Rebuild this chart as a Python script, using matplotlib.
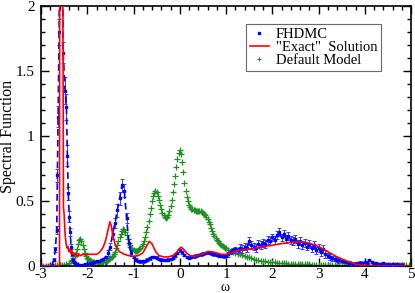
import numpy as np
import matplotlib
matplotlib.use('Agg')
import matplotlib.pyplot as plt
from matplotlib.lines import Line2D
from matplotlib.ticker import MultipleLocator

plt.rcParams['font.family'] = ['Liberation Serif', 'DejaVu Serif']
plt.rcParams['axes.unicode_minus'] = False

# FHDMC: fine points around the sharp low-energy peak
fh_peak_w = [-3.00, -2.95, -2.90, -2.85, -2.80, -2.76, -2.72, -2.69, -2.66, -2.645,
             -2.63, -2.61, -2.59, -2.57, -2.55, -2.53, -2.52, -2.48, -2.45, -2.43,
             -2.41, -2.39, -2.37, -2.35, -2.33, -2.31, -2.29, -2.27, -2.25]
fh_peak_a = [0.0, 0.0, 0.0, 0.0, 0.002, 0.01, 0.05, 0.13, 0.28, 0.7,
             1.15, 1.8, 2.4, 2.7, 2.5, 2.1, 1.64, 1.35, 1.22, 0.85,
             0.56, 0.38, 0.26, 0.15, 0.09, 0.05, 0.03, 0.02, 0.012]
fh_peak_err = [0.002, 0.002, 0.002, 0.002, 0.003, 0.005, 0.01, 0.02, 0.03, 0.05,
               0.08, 0.1, 0.1, 0.1, 0.1, 0.1, 0.08, 0.1, 0.1, 0.08,
               0.05, 0.04, 0.03, 0.02, 0.015, 0.01, 0.008, 0.006, 0.005]

# FHDMC on the regular grid -2.20 ... 4.80 (step 0.05)
fh_w = np.round(np.arange(-2.20, 4.801, 0.05), 2)
fh_a = [0.01, 0.008, 0.01, 0.012, 0.015, 0.02, 0.025, 0.03, 0.035, 0.04,
        0.045, 0.055, 0.07, 0.10, 0.15, 0.25, 0.33, 0.43, 0.52, 0.62,
        0.58, 0.37, 0.18, 0.10, 0.07, 0.05, 0.04, 0.035, 0.035, 0.04,
        0.05, 0.06, 0.07, 0.07, 0.065, 0.055, 0.05, 0.045, 0.045, 0.05,
        0.055, 0.065, 0.08, 0.10, 0.12, 0.105, 0.085, 0.07, 0.065, 0.07,
        0.075, 0.08, 0.085, 0.09, 0.095, 0.10, 0.105, 0.10, 0.095, 0.09,
        0.085, 0.08, 0.08, 0.075, 0.08, 0.09, 0.11, 0.12, 0.13, 0.12,
        0.14, 0.13, 0.15, 0.14, 0.19, 0.16, 0.15, 0.14, 0.17, 0.16,
        0.18, 0.17, 0.20, 0.19, 0.22, 0.20, 0.24, 0.26, 0.22, 0.25,
        0.21, 0.23, 0.20, 0.19, 0.21, 0.17, 0.19, 0.16, 0.18, 0.15,
        0.17, 0.14, 0.16, 0.12, 0.14, 0.11, 0.13, 0.09, 0.08, 0.07,
        0.06, 0.055, 0.05, 0.045, 0.04, 0.035, 0.03, 0.025, 0.02, 0.015,
        0.02, 0.015, 0.025, 0.02, 0.03, 0.025, 0.045, 0.03, 0.015, 0.02,
        0.015, 0.01, 0.02, 0.01, 0.015, 0.01, 0.012, 0.01, 0.012, 0.01,
        0.01]
fh_err = ([0.005] * 12 + [0.01, 0.02, 0.03, 0.04, 0.04, 0.05, 0.05, 0.05]
          + [0.05, 0.04, 0.03, 0.02] + [0.01] * 16
          + [0.01] * 20
          + [0.01] * 5 + [0.02] * 5 + [0.03] * 10
          + [0.03] * 20
          + [0.03] * 8 + [0.02] * 6 + [0.01] * 6
          + [0.01] * 20
          + [0.01])

# "Exact" solution
ex_w = [-3.0, -2.61, -2.60, -2.595, -2.53, -2.515, -2.50, -2.48, -2.46, -2.44,
        -2.42, -2.40, -2.38, -2.36, -2.34, -2.32, -2.30, -2.27, -2.24, -2.21,
        -2.18, -2.15, -2.10, -2.05, -2.0, -1.9, -1.8, -1.75, -1.70, -1.65,
        -1.60, -1.55, -1.51, -1.48, -1.45, -1.40, -1.35, -1.30, -1.20, -1.10,
        -1.00, -0.90, -0.80, -0.72, -0.66, -0.60, -0.52, -0.45, -0.35, -0.25,
        -0.15, -0.08, -0.02, 0.03, 0.08, 0.15, 0.22, 0.30, 0.40, 0.50,
        0.60, 0.70, 0.80, 0.90, 1.00, 1.10, 1.25, 1.50, 1.75, 2.00,
        2.25, 2.50, 2.65, 2.80, 3.00, 3.20, 3.40, 3.60, 3.80, 3.95,
        4.10, 5.0]
ex_a = [0.0, 0.0, 0.0, 2.5, 2.5, 0.45, 0.40, 0.25, 0.18, 0.14,
        0.15, 0.11, 0.13, 0.10, 0.12, 0.09, 0.10, 0.08, 0.10, 0.07,
        0.09, 0.08, 0.09, 0.085, 0.09, 0.09, 0.09, 0.10, 0.12, 0.15,
        0.20, 0.28, 0.34, 0.31, 0.24, 0.17, 0.13, 0.11, 0.09, 0.08,
        0.075, 0.08, 0.10, 0.15, 0.19, 0.17, 0.11, 0.08, 0.07, 0.07,
        0.08, 0.10, 0.13, 0.145, 0.13, 0.10, 0.08, 0.075, 0.08, 0.095,
        0.11, 0.11, 0.10, 0.09, 0.09, 0.10, 0.12, 0.13, 0.145, 0.16,
        0.175, 0.185, 0.185, 0.175, 0.15, 0.11, 0.07, 0.04, 0.015, 0.005,
        0.0, 0.0]

# Default model on grid -3.00 ... 5.00 (step 0.05)
dm_w = np.round(np.arange(-3.0, 5.001, 0.05), 2)
dm_a = [0.002, 0.002, 0.002, 0.003, 0.003, 0.003, 0.004, 0.004, 0.005, 0.006,
        0.008, 0.012, 0.02, 0.035, 0.06, 0.10, 0.17, 0.21, 0.16, 0.10,
        0.065, 0.045, 0.033, 0.027, 0.024, 0.024, 0.026, 0.03, 0.035, 0.045,
        0.06, 0.08, 0.11, 0.16, 0.22, 0.27, 0.28, 0.24, 0.18, 0.14,
        0.12, 0.115, 0.12, 0.14, 0.17, 0.22, 0.30, 0.40, 0.50, 0.56,
        0.57, 0.51, 0.44, 0.39, 0.37, 0.39, 0.46, 0.57, 0.69, 0.82,
        0.89, 0.80, 0.64, 0.53, 0.47, 0.44, 0.43, 0.425, 0.42, 0.42,
        0.41, 0.39, 0.36, 0.32, 0.27, 0.23, 0.20, 0.18, 0.16, 0.15,
        0.135, 0.125, 0.115, 0.105, 0.10, 0.095, 0.09, 0.085, 0.078, 0.072,
        0.066, 0.06, 0.055, 0.05, 0.046, 0.042, 0.039, 0.036, 0.033, 0.031,
        0.029, 0.027, 0.025, 0.024, 0.022, 0.021, 0.02, 0.019, 0.018, 0.017,
        0.016, 0.015, 0.014, 0.014, 0.013, 0.012, 0.012, 0.011, 0.011, 0.01,
        0.01, 0.01, 0.009, 0.009, 0.009, 0.008, 0.008, 0.008, 0.008, 0.007,
        0.007, 0.007, 0.007, 0.006, 0.006, 0.006, 0.006, 0.006, 0.005, 0.005,
        0.005, 0.005, 0.005, 0.005, 0.005, 0.005, 0.005, 0.004, 0.004, 0.004,
        0.004, 0.004, 0.004, 0.004, 0.004, 0.004, 0.004, 0.004, 0.004, 0.004,
        0.004]

# Default model, in-between points -2.325 ... 0.975 (step 0.05)
dm2_w = np.round(np.arange(-2.325, 0.976, 0.05), 3)
dm2_a = [0.045, 0.08, 0.13, 0.20, 0.19, 0.13, 0.08, 0.054, 0.038, 0.03,
         0.025, 0.024, 0.025, 0.028, 0.032, 0.04, 0.052, 0.07, 0.095, 0.135,
         0.19, 0.25, 0.285, 0.265, 0.21, 0.16, 0.13, 0.117, 0.116, 0.13,
         0.155, 0.19, 0.26, 0.35, 0.45, 0.54, 0.58, 0.54, 0.47, 0.41,
         0.38, 0.375, 0.42, 0.51, 0.63, 0.76, 0.87, 0.86, 0.72, 0.58,
         0.50, 0.455, 0.435, 0.427, 0.422, 0.42, 0.415, 0.40, 0.375, 0.34,
         0.295, 0.25, 0.215, 0.19, 0.17, 0.155, 0.142]

fhw = np.concatenate([fh_peak_w, fh_w])
fha = np.concatenate([fh_peak_a, fh_a])
fhe = np.concatenate([fh_peak_err, fh_err])

blue = '#0000ff'
red = '#ff0000'
green = '#1f8f1f'

fig = plt.figure(figsize=(4.15, 2.93), dpi=100)
ax = fig.add_axes([41 / 415, 27 / 293, 370 / 415, 260 / 293])

ax.plot(dm_w, dm_a, '+', color=green, ms=4, mew=0.9, zorder=2)
ax.plot(dm2_w, dm2_a, '+', color=green, ms=4, mew=0.9, zorder=2)
ax.errorbar(fhw, fha, yerr=fhe, fmt='s', ms=1.5, color=blue, ecolor='#3a3aff',
            elinewidth=0.7, capsize=1.3, capthick=0.7, zorder=3)
ax.plot(fhw, fha, '--', color=blue, lw=1.2, dashes=(4, 2.5), zorder=3)
ax.plot(ex_w, ex_a, '-', color=red, lw=1.2, zorder=4)

ax.set_xlim(-3, 5)
ax.set_ylim(0, 2)
ax.xaxis.set_major_locator(MultipleLocator(1))
ax.xaxis.set_minor_locator(MultipleLocator(0.2))
ax.yaxis.set_major_locator(MultipleLocator(0.5))
ax.yaxis.set_minor_locator(MultipleLocator(0.1))
ax.set_yticks([0, 0.5, 1, 1.5, 2])
ax.set_yticklabels(['0', '0.5', '1', '1.5', '2'])
ax.tick_params(which='both', direction='in', top=True, right=True, labelsize=11)
ax.tick_params(axis='y', which='major', length=6, width=1, pad=4.5)
ax.tick_params(axis='x', which='major', length=6, width=1, pad=1.5)
ax.tick_params(which='minor', length=3, width=1)
for s in ax.spines.values():
    s.set_linewidth(1.2)

fig.text(225 / 415, 5.5 / 293, 'ω', fontsize=10, ha='center', va='center')
ax.set_ylabel('Spectral Function', fontsize=11.5, labelpad=0)

handles = [Line2D([], [], ls='none', marker='s', ms=1.6, color=blue),
           Line2D([], [], ls='-', color=red, lw=1.2),
           Line2D([], [], ls='none', marker='+', ms=3.5, mew=0.8, color=green)]
labels = ['FHDMC', '"Exact"  Solution', 'Default Model']
leg = ax.legend(handles, labels, loc='upper right', bbox_to_anchor=(0.919, 0.931),
                fontsize=10.5, frameon=True, fancybox=False, handlelength=1.3,
                handletextpad=0.5, labelspacing=0.0, borderpad=0.25,
                borderaxespad=0)
leg.get_frame().set_edgecolor('#444444')
leg.get_frame().set_linewidth(0.8)

fig.savefig('out.png', dpi=100)
